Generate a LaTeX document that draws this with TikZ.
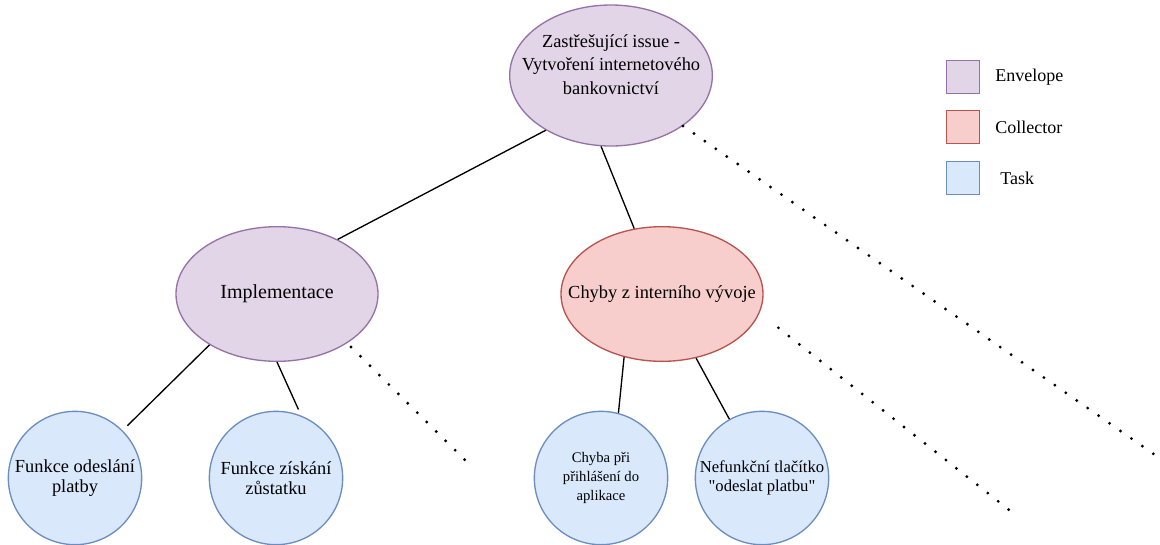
\documentclass[tikz,border=0pt]{standalone}
\usepackage{fontspec}
\setmainfont{Liberation Serif}[Ligatures=TeXOff]
\usetikzlibrary{shapes.geometric}
\definecolor{envfill}{HTML}{E1D5E7}
\definecolor{envdraw}{HTML}{9673A6}
\definecolor{colfill}{HTML}{F8CECC}
\definecolor{coldraw}{HTML}{B85450}
\definecolor{taskfill}{HTML}{DAE8FC}
\definecolor{taskdraw}{HTML}{6C8EBF}
\begin{document}
\begin{tikzpicture}[x=0.75pt,y=-0.75pt,
    envcol/.style={draw=envdraw,fill=envfill},
    colcol/.style={draw=coldraw,fill=colfill},
    taskcol/.style={draw=taskdraw,fill=taskfill},
    bubble/.style={ellipse,line width=1pt,inner sep=0pt,align=center,
      minimum width=151.5pt,minimum height=101pt,
      font=\fontsize{13.8}{15}\selectfont},
    disc/.style={circle,taskcol,line width=1pt,inner sep=0pt,align=center,
      minimum size=100pt,font=\fontsize{13.8}{15}\selectfont},
    key/.style={rectangle,line width=1pt,minimum size=25pt,inner sep=0pt},
    keytext/.style={anchor=west,inner sep=0pt,font=\fontsize{13.5}{15}\selectfont},
    dots/.style={line width=2.4pt,line cap=round,dash pattern=on 0pt off 10pt}]
  \useasboundingbox (0,0) rectangle (1160,544);
  \draw
    (611,75.5) node[bubble,envcol,minimum width=152pt,minimum height=105.75pt] (top)
      {\makebox[0pt]{\raisebox{3.6pt}[0pt][0pt]{\fontsize{13.8}{17.6}\selectfont
       \begin{tabular}{@{}c@{}}Zastřešující issue -\\Vytvoření internetového\\bankovnictví\end{tabular}}}}
    (277,294) node[bubble,envcol,font=\fontsize{15}{18}\selectfont] (impl) {\makebox[0pt]{Implementace}}
    (662,294) node[bubble,colcol] (chyby) {\makebox[0pt]{Chyby z interního vývoje}}
    (75,478) node[disc] (t1) {Funkce odeslání\\platby}
    (276,478) node[disc] (t2) {Funkce získání\\zůstatku}
    (601,478) node[disc,font=\fontsize{11}{14.2}\selectfont] (t3) {Chyba při\\přihlášení do\\aplikace}
    (762,478) node[disc,font=\fontsize{12.5}{13.8}\selectfont] (t4) {Nefunkční tlačítko\\"odeslat platbu"};
  \draw
    (963,77) node[key,envcol] (k1) {}
    (995,77) node[keytext] (k1t) {Envelope}
    (963,127) node[key,colcol] (k2) {}
    (995,127) node[keytext] (k2t) {Collector}
    (963,178) node[key,taskcol] (k3) {}
    (1000,178) node[keytext] (k3t) {Task};
  \begin{scope}[line width=1pt]
    \draw (top.220) to (impl.42);
    \draw (top.262) to (chyby.113);
    \draw[shorten >=5pt] (impl.217) to (t1.45);
    \draw[shorten >=5pt] (impl.270) to (t2.68);
    \draw (chyby.239) to (t3.75);
    \draw (chyby.298) to (t4.119);
  \end{scope}
  \coordinate (e1) at (1155,455);
  \coordinate (e2) at (465,460);
  \coordinate (e3) at (1013,513);
  \begin{scope}[dots]
    \draw (top.325) to (e1);
    \draw[shorten <=4pt] (impl.325) to (e2);
    \draw[shorten <=18pt] (chyby.349) to (e3);
  \end{scope}
\end{tikzpicture}
\end{document}
